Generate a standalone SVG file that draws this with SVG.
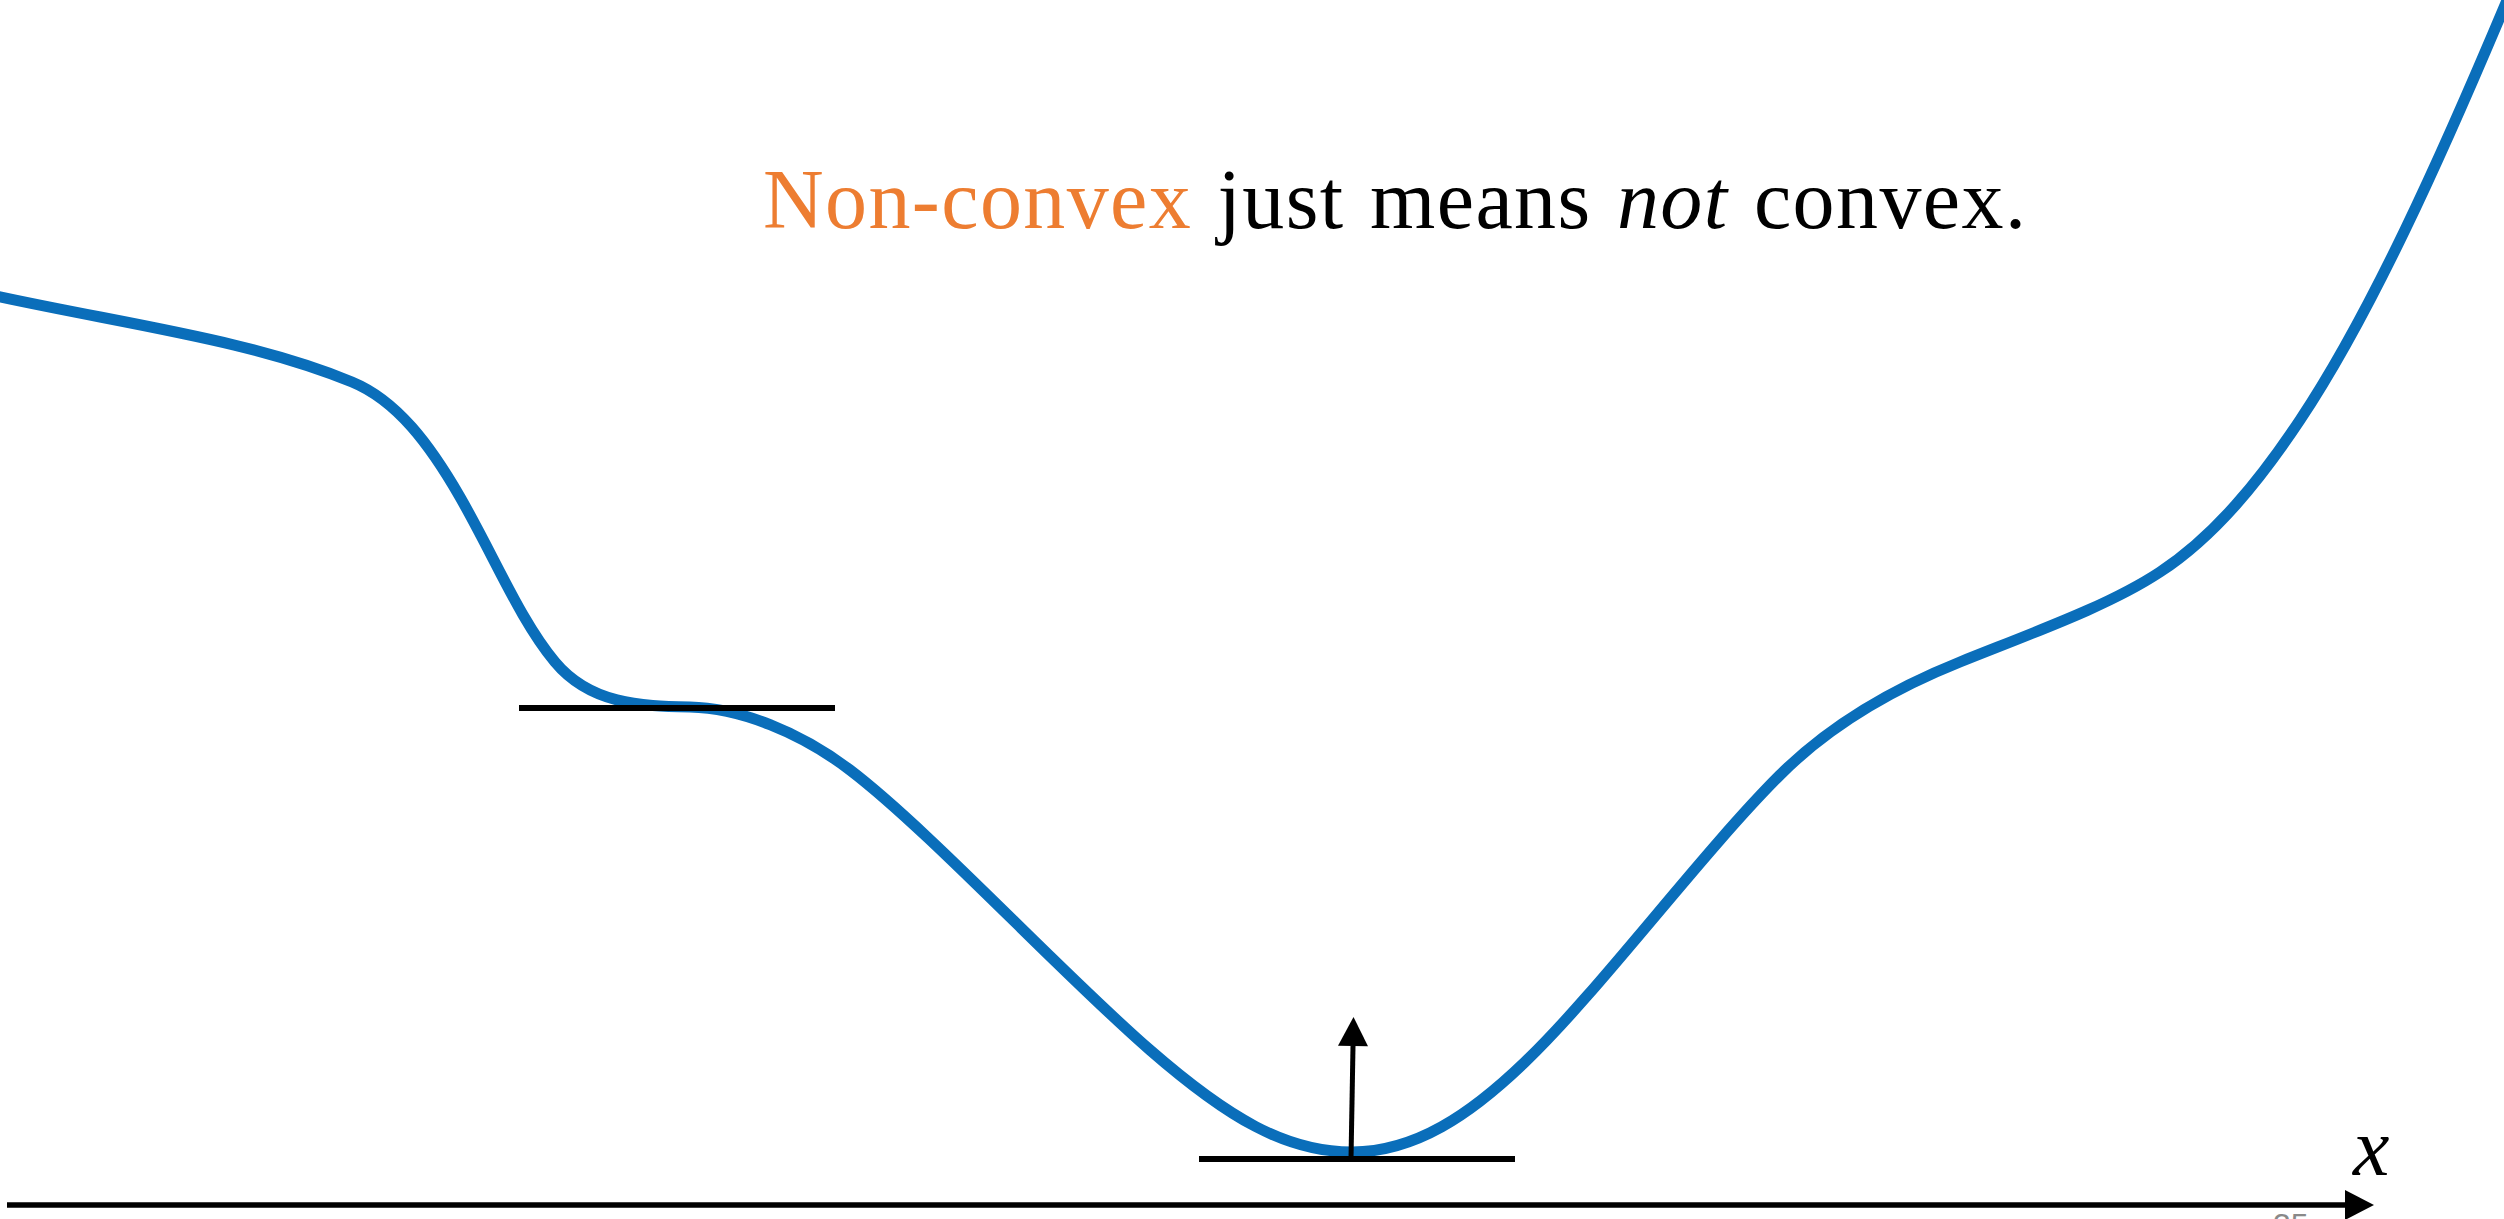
<svg xmlns="http://www.w3.org/2000/svg" width="2504" height="1219" viewBox="0 0 2504 1219">
  <defs>
    <marker id="head" markerUnits="userSpaceOnUse" markerWidth="30" markerHeight="30" refX="0" refY="15" orient="auto" viewBox="0 0 29 30">
      <path d="M0,0 L29,15 L0,30 Z" fill="#000"/>
    </marker>
    <style>
      .curve { fill: none; stroke: #0A6EBA; stroke-width: 11; stroke-linejoin: round; }
      .tangent { stroke: #000; stroke-width: 6; }
      .conn { stroke: #000; fill: none; }
      .title { font-family: "Liberation Serif", "DejaVu Serif", serif; font-size: 84px; fill: #000; letter-spacing: 1.4px; word-spacing: 3px; }
      .accent { fill: #ED7D31; }
    </style>
  </defs>
  <rect width="2504" height="1219" fill="#fff"/>

  <g id="curve">
    <path class="curve" d="M-4,296 C130,325 250,340 352,382 C397,400.5 430,445 460,497 C495,558 520,620 555,662 C590,704 640,706 690,707 C740,708 800,732 850,770 C930,831 1060,972 1150,1050 C1228,1118 1286,1152 1352,1152 C1415,1152 1470,1115 1525,1062 C1600,990 1700,855 1780,775 C1830,725 1890,690 1960,662 C2040,630 2110,605 2160,572 C2215,536 2260,480 2300,420 C2370,315 2440,160 2508,-2"/>
  </g>

  <g id="tangent-saddle">
    <line class="tangent" x1="519" y1="708" x2="835" y2="708"/>
  </g>

  <g id="tangent-minimum">
    <line class="tangent" x1="1199" y1="1159" x2="1515" y2="1159"/>
  </g>

  <g id="connectors">
    <line id="x-axis" class="conn" x1="7" y1="1205" x2="2345" y2="1205" stroke-width="5.5" marker-end="url(#head)"/>
    <line id="normal-arrow" class="conn" x1="1351" y1="1159" x2="1353" y2="1046" stroke-width="5" marker-end="url(#head)"/>
  </g>

  <g id="title">
    <text class="title" x="763" y="228"><tspan class="accent">Non-convex</tspan> just means <tspan font-style="italic">not</tspan> convex.</text>
  </g>

  <g id="x-label">
    <text x="2353" y="1175" font-family="Liberation Serif, DejaVu Serif, serif" font-style="italic" font-size="82" fill="#000">x</text>
  </g>

  <g id="page-number">
    <text x="2273" y="1236" font-family="Liberation Sans, Arial, sans-serif" font-size="32" fill="#898989">35</text>
  </g>
</svg>
